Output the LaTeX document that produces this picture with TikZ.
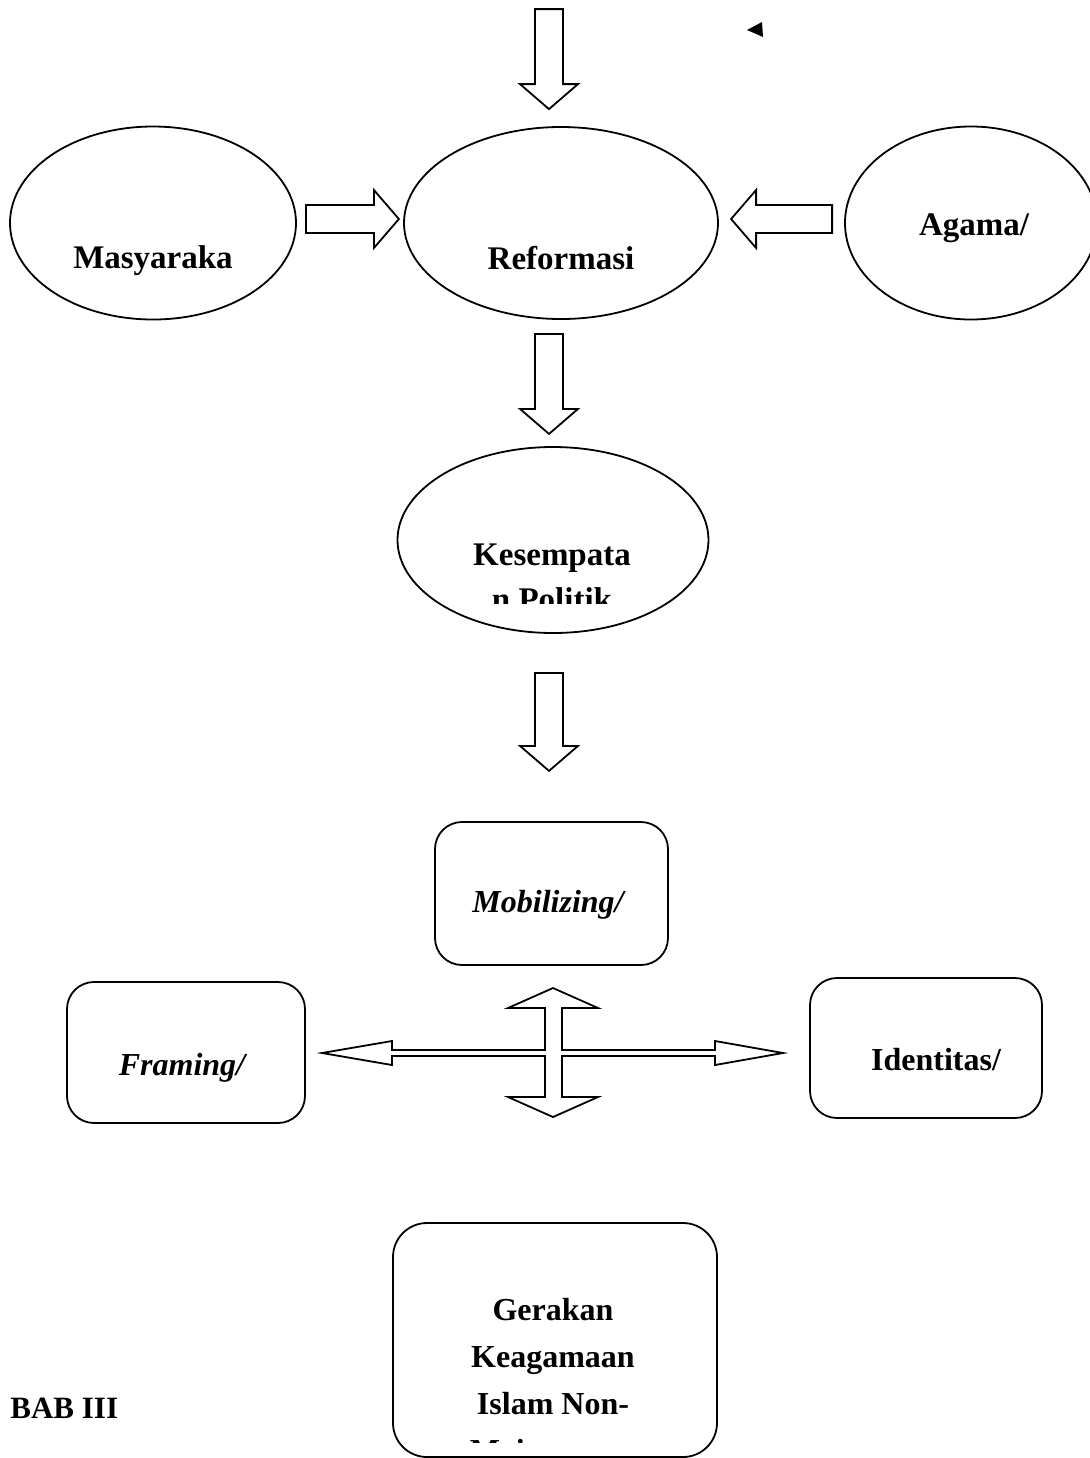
\documentclass[tikz,border=0pt]{standalone}
\usepackage{fontspec}
\setmainfont{Liberation Serif}
\usetikzlibrary{shapes.geometric, calc}

\newcommand{\lblfont}{\fontsize{16}{23.5}\selectfont\bfseries}
\newcommand{\ovalfont}{\fontsize{16.5}{22.5}\selectfont\bfseries}

\begin{document}
\begin{tikzpicture}[
  x=0.5pt, y=-0.5pt,
  oval/.style={draw, ellipse, line width=0.9pt, inner sep=0pt},
  roundbox/.style={draw, rounded corners=13.5pt, line width=0.9pt, inner sep=0pt},
  lbl/.style={font=\lblfont, inner sep=0pt},
  ovallbl/.style={font=\ovalfont, inner sep=0pt},
  blockline/.style={line width=0.9pt, line join=miter},
  blockarr/.pic={\draw[blockline] (0,-14) -- (#1,-14) -- (#1,-29) -- (#1+25,0) -- (#1,29) -- (#1,14) -- (0,14) -- cycle;},
  crossarr/.pic={\draw[blockline] (0,-65) -- (45,-45) -- (9,-45) -- (9,-3) -- (162,-3) -- (162,-12) -- (230,0) -- (162,12) -- (162,3) -- (9,3) -- (9,44) -- (45,44) -- (0,64) -- (-45,44) -- (-8,44) -- (-8,3) -- (-161,3) -- (-161,12) -- (-231,0) -- (-161,-12) -- (-161,-3) -- (-8,-3) -- (-8,-45) -- (-45,-45) -- cycle;}
]
\useasboundingbox (0,0) rectangle (1090,1458);

% top row
\node[oval, minimum width=143pt, minimum height=96.5pt] (masy) at (153,223) {};
\node[oval, minimum width=157pt, minimum height=96pt] (refor) at (561,223) {};
\node[oval, minimum width=126pt, minimum height=96.5pt] (agama) at (971,223) {};
\node[ovallbl, anchor=base] (masylbl) at (153,268) {Masyaraka};
\node[ovallbl, anchor=base] (reforlbl) at (561,269) {Reformasi};
\node[ovallbl, anchor=base] (agamalbl) at (974,235) {Agama/};

\fill (747,30) -- (762,22) -- (763,37) -- cycle;

\pic[rotate=-90] at ($(refor.north)+(-12,-117)$) {blockarr=75};
\pic at ($(masy.east)+(9,-4)$) {blockarr=68};
\pic[rotate=180] at ($(agama.west)+(-12,-4)$) {blockarr=76};
\pic[rotate=-90] at ($(refor.south)+(-12,14)$) {blockarr=75};

% opportunity
\node[oval, minimum width=155.5pt, minimum height=93pt] (kesem) at (553,540) {};
\begin{scope}
  \clip (380,440) rectangle (730,603);
  \node[ovallbl, align=center, anchor=base] (kesemlbl) at (552,610) {Kesempata\\n Politik};
\end{scope}
\pic[rotate=-90] at ($(kesem.south)+(-4,39)$) {blockarr=73};

% framing boxes
\node[roundbox, minimum width=116.5pt, minimum height=71.5pt] (mobil) at (551.5,893.5) {};
\node[lbl, anchor=base] (mobillbl) at (548,912) {\itshape Mobilizing/};
\node[roundbox, minimum width=119pt, minimum height=70.5pt] (framing) at (186,1052.5) {};
\node[lbl, anchor=base] (framinglbl) at (182,1075) {\itshape Framing/};
\node[roundbox, minimum width=116pt, minimum height=70pt] (ident) at (926,1048) {};
\node[lbl, anchor=base] (identlbl) at (936,1070) {Identitas/};

\coordinate (hub) at (553,1053);
\pic at (hub) {crossarr};

% movement
\node[roundbox, rounded corners=17pt, minimum width=162pt, minimum height=117pt] (gerakan) at (555,1340) {};
\begin{scope}
  \clip (393,1223) rectangle (717,1442);
  \node[lbl, align=center, anchor=base] (gerakanlbl) at (553,1461) {Gerakan\\Keagamaan\\Islam Non-\\Mainstream};
\end{scope}

\node[ovallbl, font=\fontsize{15.5}{18}\selectfont\bfseries, anchor=base west] (bab) at (10,1418) {BAB III};
\end{tikzpicture}
\end{document}
